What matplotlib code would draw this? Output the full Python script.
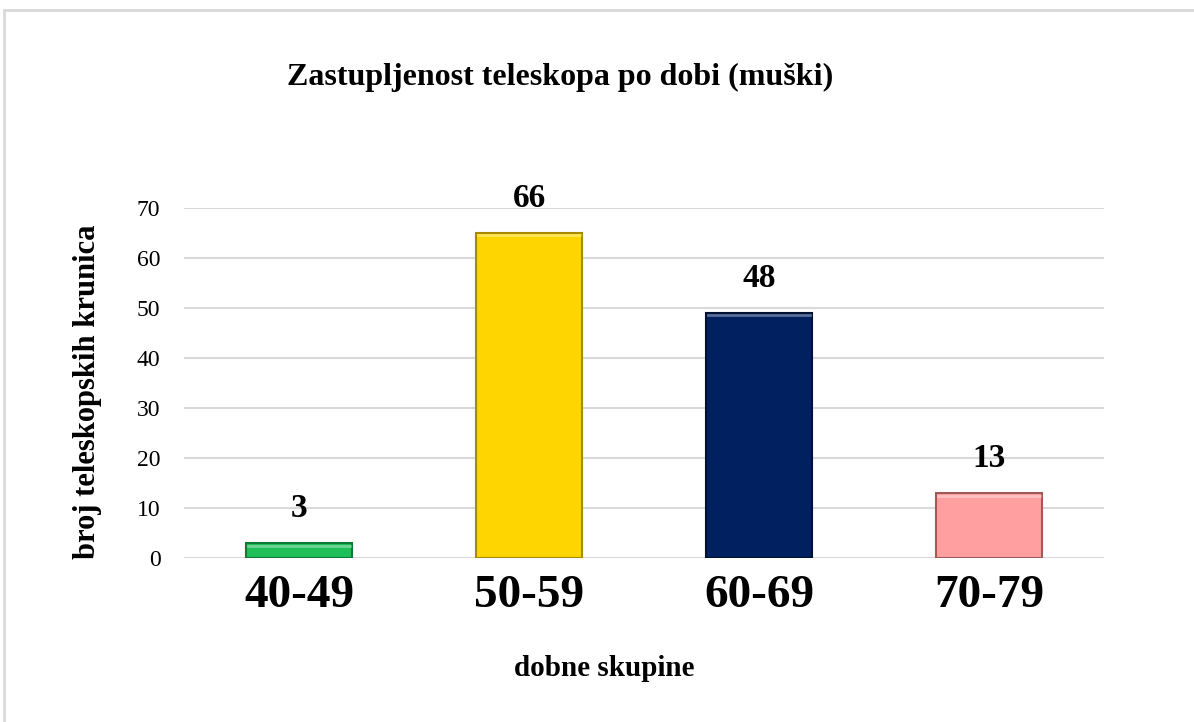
import matplotlib.pyplot as plt
from matplotlib.patches import Rectangle

# data
categories = ['40-49', '50-59', '60-69', '70-79']
values = [3, 65, 49, 13]            # bar heights as drawn
value_labels = ['3', '66', '48', '13']  # labels as printed above the bars
colors = ['#1FBF5A', '#FFD500', '#002060', '#FF9F9F']
edges = ['#0E7A35', '#A88A00', '#001030', '#A05A5A']

plt.rcParams['font.family'] = ['Liberation Serif', 'DejaVu Serif']

fig = plt.figure(figsize=(11.94, 7.22), dpi=100)
ax = fig.add_axes([184 / 1194, 1 - 558 / 722, 920 / 1194, 350 / 722])

# light grey frame round the chart area
fig.patches.append(Rectangle((4 / 1194, -0.1), 1.2, 1.1 - 10 / 722,
                             transform=fig.transFigure, fill=False,
                             edgecolor='#D9D9D9', linewidth=2))

x = range(len(categories))
bars = ax.bar(x, values, width=0.465, color=colors, edgecolor=edges,
              linewidth=1.5, zorder=3)

# little highlight on top of each bar
for b in bars:
    ax.plot([b.get_x() + 0.01, b.get_x() + b.get_width() - 0.01],
            [b.get_height() - 0.5, b.get_height() - 0.5],
            color='white', alpha=0.35, linewidth=2, zorder=4)

for i, (v, lab) in enumerate(zip(values, value_labels)):
    ax.annotate(lab, (i, v), xytext=(0, 14), textcoords='offset points',
                ha='center', va='bottom', fontsize=24, fontweight='bold')

ax.set_xlim(-0.5, len(categories) - 0.5)
ax.set_ylim(0, 70)
ax.set_yticks(range(0, 71, 10))
ax.set_xticks(list(x))
ax.set_xticklabels(categories, fontsize=34, fontweight='bold')
ax.tick_params(axis='y', labelsize=17, length=0, pad=17)
ax.tick_params(axis='x', length=0, pad=12)
ax.grid(axis='y', color='#D9D9D9', linewidth=1.5, zorder=0)
for s in ax.spines.values():
    s.set_visible(False)

fig.text(88 / 1194, 1 - 392 / 722, 'broj teleskopskih krunica', rotation=90,
         ha='center', va='center', fontsize=22, fontweight='bold')
fig.text(604 / 1194, 1 - 668 / 722, 'dobne skupine',
         ha='center', va='center', fontsize=21, fontweight='bold')
fig.text(560 / 1194, 1 - 77 / 722, 'Zastupljenost teleskopa po dobi (muški)',
         ha='center', va='center', fontsize=23, fontweight='bold')

fig.savefig('out.png', dpi=100)
